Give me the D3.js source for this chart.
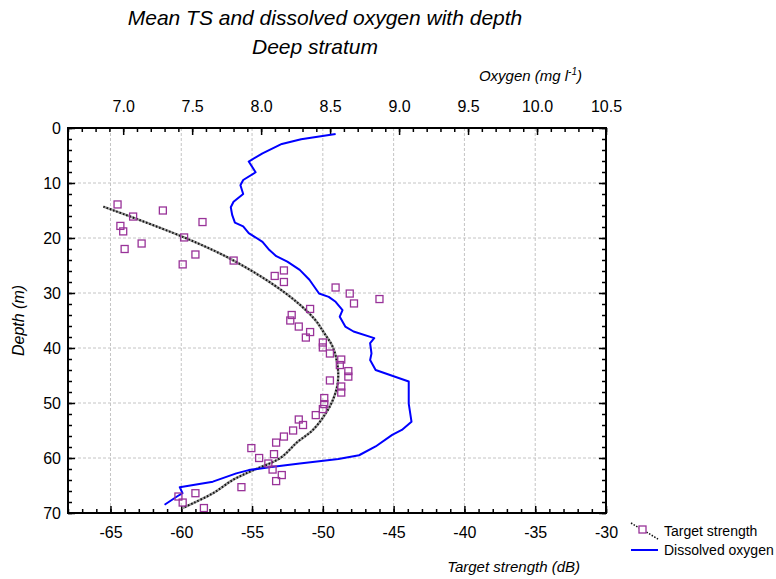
<!DOCTYPE html>
<html>
<head>
<meta charset="utf-8">
<script src="https://cdn.jsdelivr.net/npm/d3@7"></script>
<style>
  body { margin: 0; background: #fff; }
  text { font-family: "Liberation Sans", Arial, sans-serif; }
</style>
</head>
<body>
<div id="chart"></div>
<script>
var svgWidth = 776;
var svgHeight = 579;

// frame of the plot
var plot = { left: 68, right: 606, top: 128, bottom: 513 };

// mean target strength per depth bin: [TS (dB), depth (m)]
var tsPoints = [
  [-64.5, 13.9], [-63.4, 16.1], [-61.3, 15.0], [-64.3, 17.8], [-64.1, 18.8],
  [-58.5, 17.1], [-59.8, 19.9], [-62.8, 21.0], [-64.0, 22.0], [-59.0, 23.0],
  [-59.9, 24.8], [-56.3, 24.1], [-53.4, 26.9], [-52.75, 25.9], [-52.75, 28.0],
  [-49.1, 29.0], [-48.1, 30.1], [-47.8, 31.9], [-46.0, 31.1], [-50.9, 32.9],
  [-52.2, 34.0], [-52.3, 35.0], [-51.7, 36.1], [-50.9, 37.1], [-51.2, 38.1],
  [-50.0, 39.0], [-50.0, 39.9], [-49.5, 41.0], [-48.7, 42.1], [-48.8, 43.1],
  [-48.2, 44.2], [-48.2, 45.2], [-49.5, 45.9], [-48.7, 47.0], [-48.7, 48.1],
  [-49.9, 49.1], [-49.9, 50.2], [-50.0, 51.1], [-50.5, 52.2], [-51.7, 53.0],
  [-51.4, 54.0], [-52.1, 55.0], [-52.75, 56.1], [-53.3, 57.2], [-55.05, 58.2],
  [-53.45, 59.3], [-54.5, 60.0], [-53.85, 61.0], [-53.55, 62.1], [-52.9, 63.1],
  [-53.3, 64.2], [-55.75, 65.3], [-59.0, 66.4], [-60.2, 67.0], [-59.9, 68.1],
  [-58.4, 69.1]
];

// fitted TS curve: [TS (dB), depth (m)]
var tsFit = [
  [-65.5, 14.3], [-59.8, 19.9], [-56.3, 24.1], [-52.6, 30.1], [-50.6, 34.7],
  [-49.9, 37.3], [-49.3, 39.8], [-48.95, 43.4], [-48.95, 46.4], [-49.3, 49.5],
  [-49.8, 51.9], [-50.7, 54.9], [-51.8, 57.1], [-53.0, 60.0], [-54.9, 62.2],
  [-56.3, 63.9], [-57.75, 66.4], [-59.15, 68.2], [-59.9, 69.1]
];

// dissolved oxygen profile: [oxygen (mg/l), depth (m)]
var oxygen = [
  [8.54, 1.1], [8.29, 2.05], [8.15, 2.9], [8.01, 4.6], [7.91, 6.1],
  [7.96, 8.05], [7.87, 9.45], [7.85, 10.4], [7.87, 12.0], [7.80, 13.4],
  [7.78, 14.4], [7.79, 15.8], [7.81, 17.2], [7.87, 17.9], [7.91, 19.1],
  [8.01, 20.7], [8.06, 22.2], [8.11, 23.3], [8.19, 24.3], [8.28, 25.8],
  [8.35, 27.6], [8.42, 30.1], [8.49, 30.7], [8.54, 31.6], [8.59, 33.1],
  [8.57, 34.3], [8.61, 36.1], [8.67, 37.0], [8.82, 38.2], [8.79, 39.1],
  [8.80, 41.0], [8.79, 42.2], [8.83, 44.0], [9.07, 46.1], [9.07, 50.1],
  [9.09, 53.4], [9.02, 54.9], [8.95, 55.8], [8.83, 57.9], [8.71, 59.5],
  [8.56, 60.2], [8.28, 61.0], [8.06, 61.7], [7.91, 62.2], [7.82, 62.8],
  [7.65, 64.3], [7.41, 65.3], [7.43, 66.4], [7.39, 67.0], [7.30, 68.5]
];

var tsTicks = [-65, -60, -55, -50, -45, -40, -35, -30];
var oxyTicks = [7.0, 7.5, 8.0, 8.5, 9.0, 9.5, 10.0, 10.5];
var depthTicks = [0, 10, 20, 30, 40, 50, 60, 70];

var svg = d3.select("#chart")
  .append("svg")
  .attr("width", svgWidth)
  .attr("height", svgHeight);

var xTS = d3.scaleLinear().domain([-68, -30]).range([plot.left, plot.right]);
var xOxy = d3.scaleLinear().domain([6.6, 10.5]).range([plot.left, plot.right]);
var yDepth = d3.scaleLinear().domain([0, 70]).range([plot.top, plot.bottom]);

// grid lines
var grid = svg.append("g")
  .attr("stroke", "#c4c4c4")
  .attr("stroke-width", 1)
  .attr("stroke-dasharray", "3,2");

grid.selectAll(".vg")
  .data(tsTicks.filter(d => d > -68 && d < -30))
  .enter()
  .append("line")
  .attr("x1", d => xTS(d)).attr("x2", d => xTS(d))
  .attr("y1", plot.top).attr("y2", plot.bottom);

grid.selectAll(".hg")
  .data(depthTicks.filter(d => d > 0 && d < 70))
  .enter()
  .append("line")
  .attr("x1", plot.left).attr("x2", plot.right)
  .attr("y1", d => yDepth(d)).attr("y2", d => yDepth(d));

// axes, ticks point inward
function styleAxis(g) {
  g.select(".domain").remove();
  g.selectAll(".tick line").attr("stroke", "#000").attr("stroke-width", 1.5);
  g.selectAll("text").attr("font-size", "16px").attr("fill", "#000");
}

function minors(lo, hi, step) {
  var out = [];
  for (var v = lo; v <= hi + 1e-9; v += step) out.push(+v.toFixed(3));
  return out;
}

// plain hyphen for negatives, like the original
var fmtInt = d => String(d);

// bottom: target strength
svg.append("g")
  .attr("transform", `translate(0, ${plot.bottom})`)
  .call(d3.axisBottom(xTS).tickValues(minors(-68, -30, 1)).tickSize(-4).tickFormat(""))
  .call(styleAxis);
svg.append("g")
  .attr("transform", `translate(0, ${plot.bottom})`)
  .call(d3.axisBottom(xTS).tickValues(tsTicks).tickSize(-7).tickPadding(14).tickFormat(fmtInt))
  .call(styleAxis);

// top: oxygen
svg.append("g")
  .attr("transform", `translate(0, ${plot.top})`)
  .call(d3.axisTop(xOxy).tickValues(minors(6.6, 10.5, 0.1)).tickSize(-4).tickFormat(""))
  .call(styleAxis);
svg.append("g")
  .attr("transform", `translate(0, ${plot.top})`)
  .call(d3.axisTop(xOxy).tickValues(oxyTicks).tickSize(-7).tickPadding(16).tickFormat(d3.format(".1f")))
  .call(styleAxis);

// left: depth
svg.append("g")
  .attr("transform", `translate(${plot.left}, 0)`)
  .call(d3.axisLeft(yDepth).tickValues(minors(0, 70, 2)).tickSize(-4).tickFormat(""))
  .call(styleAxis);
svg.append("g")
  .attr("transform", `translate(${plot.left}, 0)`)
  .call(d3.axisLeft(yDepth).tickValues(depthTicks).tickSize(-7).tickPadding(7).tickFormat(fmtInt))
  .call(styleAxis);

// right: depth ticks only
svg.append("g")
  .attr("transform", `translate(${plot.right}, 0)`)
  .call(d3.axisRight(yDepth).tickValues(minors(0, 70, 2)).tickSize(-4).tickFormat(""))
  .call(styleAxis);
svg.append("g")
  .attr("transform", `translate(${plot.right}, 0)`)
  .call(d3.axisRight(yDepth).tickValues(depthTicks).tickSize(-7).tickFormat(""))
  .call(styleAxis);

// clip to the frame
svg.append("clipPath").attr("id", "clip")
  .append("rect")
  .attr("x", plot.left).attr("y", plot.top)
  .attr("width", plot.right - plot.left).attr("height", plot.bottom - plot.top);

var marks = svg.append("g").attr("clip-path", "url(#clip)");

// TS fit line, grey with black dots on top
var fitLine = d3.line()
  .x(d => xTS(d[0]))
  .y(d => yDepth(d[1]))
  .curve(d3.curveCatmullRom);

marks.append("path")
  .datum(tsFit)
  .attr("d", fitLine)
  .attr("fill", "none")
  .attr("stroke", "#9a9a9a")
  .attr("stroke-width", 2.5);
marks.append("path")
  .datum(tsFit)
  .attr("d", fitLine)
  .attr("fill", "none")
  .attr("stroke", "#111")
  .attr("stroke-width", 2)
  .attr("stroke-dasharray", "1.5,2");

// oxygen profile
var oxyLine = d3.line()
  .x(d => xOxy(d[0]))
  .y(d => yDepth(d[1]));

marks.append("path")
  .datum(oxygen)
  .attr("d", oxyLine)
  .attr("fill", "none")
  .attr("stroke", "#0000ff")
  .attr("stroke-width", 2)
  .attr("stroke-linejoin", "round");

// TS squares
var sq = 7;
marks.selectAll(".ts")
  .data(tsPoints)
  .enter()
  .append("rect")
  .attr("x", d => xTS(d[0]) - sq / 2)
  .attr("y", d => yDepth(d[1]) - sq / 2)
  .attr("width", sq)
  .attr("height", sq)
  .attr("fill", "none")
  .attr("stroke", "#993399")
  .attr("stroke-width", 1.3);

// frame
svg.append("rect")
  .attr("x", plot.left).attr("y", plot.top)
  .attr("width", plot.right - plot.left).attr("height", plot.bottom - plot.top)
  .attr("fill", "none")
  .attr("stroke", "#000")
  .attr("stroke-width", 2);

// titles
svg.append("text")
  .attr("x", 325).attr("y", 25)
  .attr("text-anchor", "middle")
  .attr("font-size", "21px")
  .attr("font-style", "italic")
  .text("Mean TS and dissolved oxygen with depth");
svg.append("text")
  .attr("x", 315).attr("y", 54)
  .attr("text-anchor", "middle")
  .attr("font-size", "21px")
  .attr("font-style", "italic")
  .text("Deep stratum");

// axis titles
var oxyTitle = svg.append("text")
  .attr("x", 582).attr("y", 81)
  .attr("text-anchor", "end")
  .attr("font-size", "15px")
  .attr("font-style", "italic");
oxyTitle.append("tspan").text("Oxygen (mg l");
oxyTitle.append("tspan").attr("font-size", "10px").attr("dy", -6).text("-1");
oxyTitle.append("tspan").attr("dy", 6).text(")");

svg.append("text")
  .attr("x", 580).attr("y", 572)
  .attr("text-anchor", "end")
  .attr("font-size", "15px")
  .attr("font-style", "italic")
  .text("Target strength (dB)");

svg.append("text")
  .attr("transform", `translate(24, ${(plot.top + plot.bottom) / 2}) rotate(-90)`)
  .attr("text-anchor", "middle")
  .attr("font-size", "16px")
  .attr("font-style", "italic")
  .text("Depth (m)");

// legend
var legend = svg.append("g").attr("transform", "translate(631, 523)");
legend.append("line")
  .attr("x1", 0).attr("y1", 0).attr("x2", 27).attr("y2", 16)
  .attr("stroke", "#111").attr("stroke-width", 1.5).attr("stroke-dasharray", "1.5,1.5");
legend.append("rect")
  .attr("x", 8).attr("y", 3).attr("width", 7).attr("height", 7)
  .attr("fill", "#fff").attr("stroke", "#993399").attr("stroke-width", 1.3);
legend.append("text")
  .attr("x", 33).attr("y", 13)
  .attr("font-size", "14px")
  .text("Target strength");
legend.append("line")
  .attr("x1", 0).attr("y1", 27).attr("x2", 27).attr("y2", 27)
  .attr("stroke", "#0000ff").attr("stroke-width", 2);
legend.append("text")
  .attr("x", 33).attr("y", 32)
  .attr("font-size", "14px")
  .text("Dissolved oxygen");
</script>
</body>
</html>
